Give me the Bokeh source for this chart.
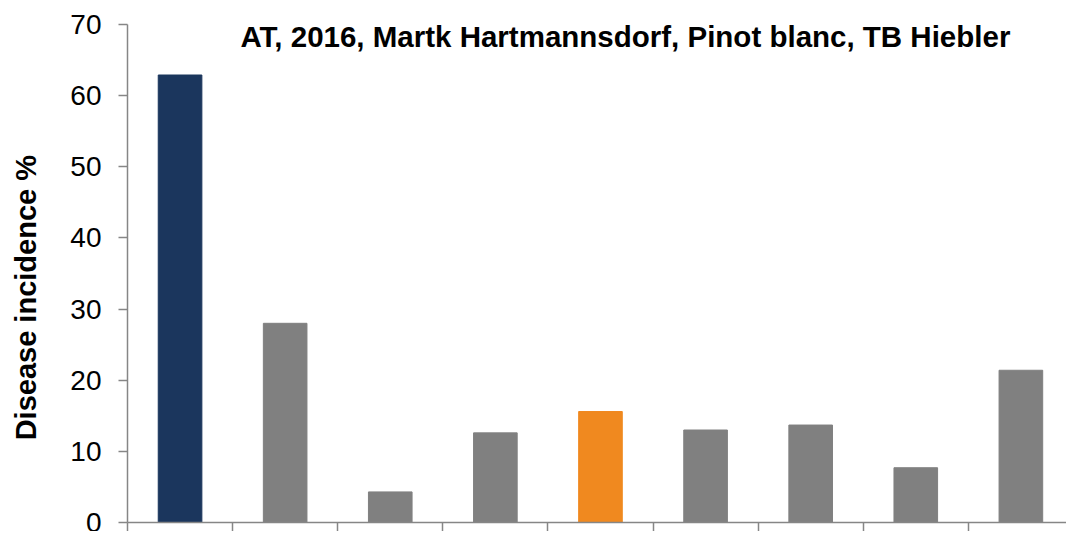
from bokeh.plotting import figure
from bokeh.models import Range1d, FixedTicker, Label, ColumnDataSource
from bokeh.embed import file_html
from bokeh.resources import INLINE

# ---- data ----
categories = ["T1", "T2", "T3", "T4", "T5", "T6", "T7", "T8", "T9"]
incidence = [62.9, 28.0, 4.3, 12.6, 15.6, 13.0, 13.7, 7.7, 21.4]
bar_colors = ["#1b365d", "#808080", "#808080", "#808080", "#f0891f",
              "#808080", "#808080", "#808080", "#808080"]
y_ticks = [0, 10, 20, 30, 40, 50, 60, 70]
title_text = "AT, 2016, Martk Hartmannsdorf, Pinot blanc, TB Hiebler"
y_label = "Disease incidence %"

FONT = "Liberation Sans"
AXIS_COLOR = "#868686"

n = len(categories)
xs = [i + 0.5 for i in range(n)]
src = ColumnDataSource(dict(x=xs, top=incidence, color=bar_colors, cat=categories))

p = figure(frame_width=939, frame_height=498,
           x_range=Range1d(0, 8.934), y_range=Range1d(0, 70),
           output_backend="svg", toolbar_location=None,
           min_border_left=127, min_border_right=0,
           min_border_top=24, min_border_bottom=0)
p.outline_line_color = None
p.xgrid.grid_line_color = None
p.ygrid.grid_line_color = None
p.background_fill_color = "white"
p.border_fill_color = "white"

p.vbar(x="x", top="top", width=0.415, bottom=0, color="color",
       line_color="color", source=src)

# y axis
ya = p.yaxis[0]
ya.ticker = FixedTicker(ticks=y_ticks)
ya.minor_tick_line_color = None
ya.axis_line_color = AXIS_COLOR
ya.axis_line_width = 1.5
ya.major_tick_line_color = AXIS_COLOR
ya.major_tick_line_width = 1.5
ya.major_tick_in = 0
ya.major_tick_out = 9
ya.major_label_standoff = 17
ya.major_label_text_font = FONT
ya.major_label_text_font_size = "28px"
ya.major_label_text_color = "#000000"
# trailing no-break spaces shift the centred label a little downwards, as in the reference
ya.axis_label = y_label + "\u00a0" * 6
ya.axis_label_text_font = FONT
ya.axis_label_text_font_size = "29px"
ya.axis_label_text_font_style = "bold"
ya.axis_label_text_color = "#000000"
ya.axis_label_standoff = 25

# x axis
xa = p.xaxis[0]
xa.ticker = FixedTicker(ticks=list(range(n + 1)))
xa.minor_tick_line_color = None
xa.axis_line_color = AXIS_COLOR
xa.axis_line_width = 1.5
xa.major_tick_line_color = AXIS_COLOR
xa.major_tick_line_width = 1.5
xa.major_tick_in = 0
xa.major_tick_out = 9
xa.major_label_text_font_size = "0px"
xa.major_label_standoff = 0

# chart title inside the plot area
p.add_layout(Label(x=1.075, y=70, y_offset=-12, text=title_text,
                   text_font=FONT, text_font_size="29.5px",
                   text_font_style="bold", text_color="#000000",
                   text_baseline="alphabetic", text_align="left"))

open("out.html", "w").write(file_html(p, INLINE))
